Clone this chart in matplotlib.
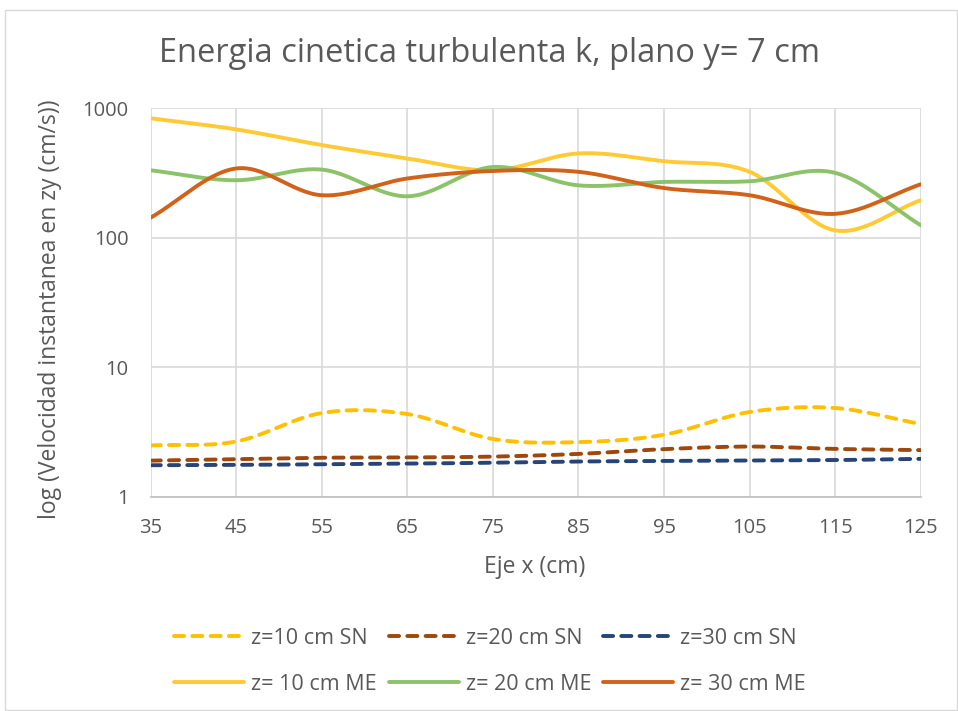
import numpy as np
import matplotlib.pyplot as plt
from matplotlib.patches import Rectangle

# Datos
eje_x = [35, 45, 55, 65, 75, 85, 95, 105, 115, 125]

z10_sn = [2.49, 2.67, 4.43, 4.35, 2.79, 2.64, 3.01, 4.51, 4.84, 3.64]
z20_sn = [1.90, 1.95, 2.00, 2.01, 2.04, 2.14, 2.33, 2.44, 2.34, 2.29]
z30_sn = [1.75, 1.76, 1.78, 1.80, 1.83, 1.87, 1.89, 1.91, 1.92, 1.96]
z10_me = [837, 687, 520, 410, 332, 448, 390, 323, 114, 195]
z20_me = [332, 278, 336, 209, 352, 254, 270, 273, 317, 125]
z30_me = [143, 343, 213, 287, 328, 323, 242, 213, 153, 259]

etiquetas = ["z=10 cm SN", "z=20 cm SN", "z=30 cm SN",
             "z= 10 cm ME", "z= 20 cm ME", "z= 30 cm ME"]
colores = ["#FFC000", "#9E480E", "#264478", "#FFCA33", "#8CC26A", "#D1621A"]
estilos = ["sn", "sn", "sn", "me", "me", "me"]

plt.rcParams['font.family'] = ['Open Sans', 'DejaVu Sans']
gris = "#595959"


# Suavizado tipo Excel (Catmull-Rom sobre log10)
def suavizar(x, y, n=30):
    x = np.asarray(x, float)
    y = np.log10(np.asarray(y, float))
    px = np.concatenate([[2 * x[0] - x[1]], x, [2 * x[-1] - x[-2]]])
    py = np.concatenate([[2 * y[0] - y[1]], y, [2 * y[-1] - y[-2]]])
    xs, ys = [], []
    t = np.linspace(0, 1, n, endpoint=False)
    for i in range(1, len(px) - 2):
        for p, out in ((px, xs), (py, ys)):
            p0, p1, p2, p3 = p[i - 1], p[i], p[i + 1], p[i + 2]
            out.extend(0.5 * ((2 * p1) + (-p0 + p2) * t
                              + (2 * p0 - 5 * p1 + 4 * p2 - p3) * t ** 2
                              + (-p0 + 3 * p1 - 3 * p2 + p3) * t ** 3))
    xs.append(x[-1])
    ys.append(y[-1])
    return np.array(xs), 10 ** np.array(ys)


fig = plt.figure(figsize=(9.58, 7.11), dpi=100)
ax = fig.add_axes([0.1573, 0.3014, 0.8038, 0.5463])

series = [z10_sn, z20_sn, z30_sn, z10_me, z20_me, z30_me]
lineas = []
for datos, etiqueta, color, estilo in zip(series, etiquetas, colores, estilos):
    xs, ys = suavizar(eje_x, datos)
    if estilo == "sn":
        ln, = ax.plot(xs, ys, color=color, lw=2.8, linestyle=(0, (2.6, 2.1)),
                      dash_capstyle="round", label=etiqueta)
    else:
        ln, = ax.plot(xs, ys, color=color, lw=2.8, solid_capstyle="round",
                      label=etiqueta)
    lineas.append(ln)

ax.set_yscale("log")
ax.set_ylim(1, 1000)
ax.set_xlim(35, 125)
ax.set_xticks(eje_x)
ax.set_yticks([1, 10, 100, 1000])
ax.set_yticklabels(["1", "10", "100", "1000"])
ax.minorticks_off()
ax.tick_params(length=0, labelsize=14.5, colors=gris)
ax.tick_params(axis="x", pad=15)
ax.tick_params(axis="y", pad=16)

ax.grid(True, color="#D9D9D9", lw=1.2)
ax.set_axisbelow(True)
for lado in ["top", "right", "left"]:
    ax.spines[lado].set_visible(False)
ax.spines["bottom"].set_color("#BFBFBF")
ax.spines["bottom"].set_linewidth(1.2)

fig.text(0.511, 0.925, "Energia cinetica turbulenta k, plano y= 7 cm",
         fontsize=23.5, color=gris, ha="center", va="center")
ax.set_xlabel("Eje x (cm)", fontsize=16.5, color=gris, va="center")
ax.xaxis.set_label_coords(0.4987, -0.182)
ax.set_ylabel("log (Velocidad instantanea en zy (cm/s))", fontsize=16.5,
              color=gris, va="center")
ax.yaxis.set_label_coords(-0.131, 0.483)

# orden por filas: SN arriba, ME abajo
orden = [0, 3, 1, 4, 2, 5]
fig.legend([lineas[i] for i in orden], [etiquetas[i] for i in orden],
           loc="upper left", bbox_to_anchor=(0.182, 0.117), ncol=3,
           frameon=False, fontsize=15.5, labelcolor=gris, handlelength=3.25,
           columnspacing=0.55, handletextpad=0.33, labelspacing=1.15,
           borderpad=0, borderaxespad=0)

fig.patches.append(Rectangle((0.005, 0.001), 0.994, 0.985,
                             transform=fig.transFigure, fill=False,
                             edgecolor="#D9D9D9", lw=1))

fig.savefig("out.png", dpi=100)
